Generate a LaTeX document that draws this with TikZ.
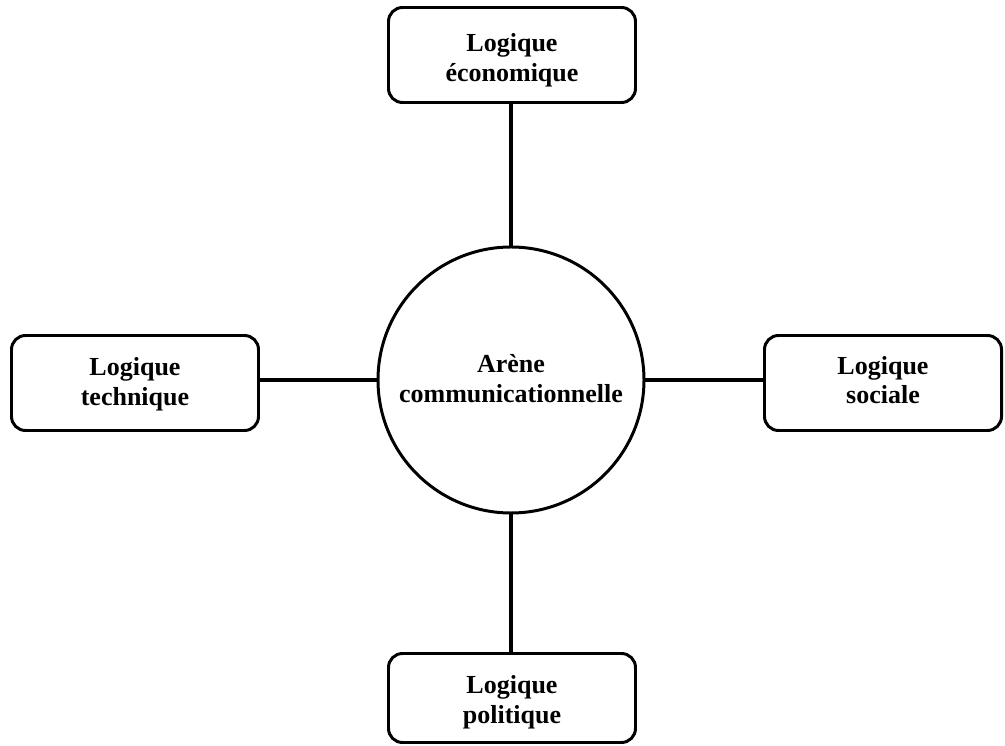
\documentclass[tikz,border=0pt]{standalone}
\usepackage{fontspec}
\setmainfont{Liberation Serif}
\newcommand{\twolines}[3]{\raisebox{#1}[28.9pt][5.1pt]{\begin{tabular}[b]{@{}c@{}}#2\\#3\end{tabular}}}
\begin{document}
\begin{tikzpicture}[x=0.02cm,y=-0.02cm,
  logicbox/.style={draw, line width=1.7pt, rounded corners=8pt, minimum width=247*0.02cm, minimum height=95*0.02cm, align=center, font=\bfseries\fontsize{14.8}{17}\selectfont, inner sep=0pt},
  arena/.style={draw, line width=1.7pt, circle, minimum size=266*0.02cm, align=center, font=\bfseries\fontsize{14.8}{17}\selectfont, inner sep=0pt},
  link/.style={line width=2pt}]
\useasboundingbox (0,0) rectangle (1005,746);
\node[arena] (c) at (511,380) {\twolines{-1.1pt}{Arène}{communicationnelle}};
\node[logicbox] (eco) at (512,55) {\twolines{-3pt}{Logique}{économique}};
\node[logicbox] (tech) at (135,383) {\twolines{-1.1pt}{Logique}{technique}};
\node[logicbox, minimum width=237*0.02cm] (soc) at (883,383) {\twolines{0pt}{Logique}{sociale}};
\node[logicbox, minimum height=89*0.02cm] (pol) at (512,698) {\twolines{-2.6pt}{Logique}{politique}};
\draw[link] (eco.south -| c.north) -- (c.north);
\draw[link] (tech.east |- c.west) -- (c.west);
\draw[link] (c.east) -- (soc.west |- c.east);
\draw[link] (c.south) -- (pol.north -| c.south);
\end{tikzpicture}
\end{document}
